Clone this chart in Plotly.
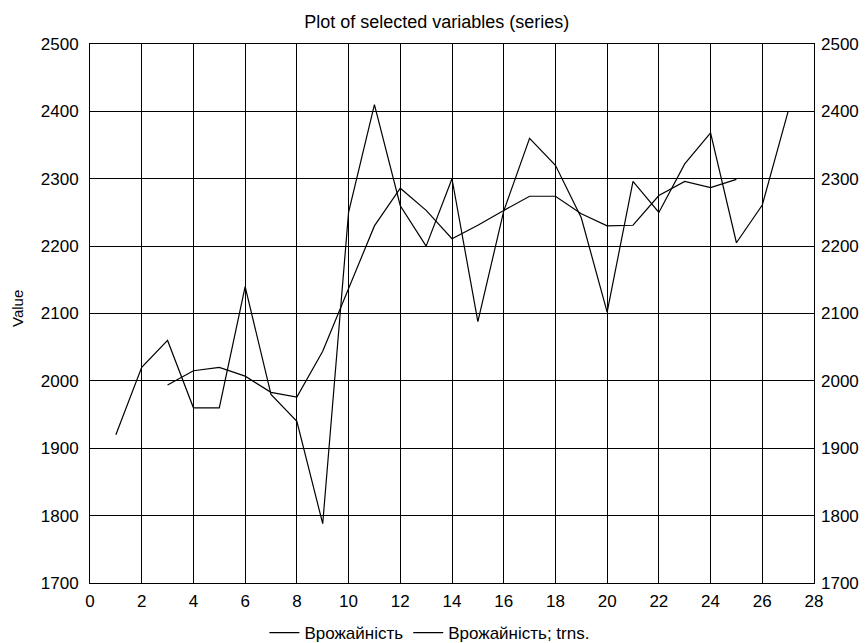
import plotly.graph_objects as go

# Yield series (Врожайність), periods 1..27
periods = list(range(1, 28))
yield_values = [1920, 2020, 2060, 1960, 1960, 2140, 1980, 1940, 1788, 2250,
                2410, 2260, 2200, 2300, 2088, 2252, 2360, 2320, 2242, 2102,
                2296, 2250, 2322, 2368, 2205, 2261, 2400]

# Smoothed (transformed) series, periods 3..25
trend_periods = list(range(3, 26))
trend_values = [1994, 2015, 2020, 2007, 1983, 1976, 2044, 2137, 2230, 2286,
                2253, 2211, 2231, 2253, 2274, 2274, 2248, 2230, 2231, 2275,
                2296, 2287, 2299]

x_ticks = list(range(0, 29, 2))
y_ticks = list(range(1700, 2501, 100))

FONT = "Liberation Sans, Arial, sans-serif"
TICK_FONT = dict(family=FONT, size=17, color="black")

fig = go.Figure()
fig.add_trace(go.Scatter(x=periods, y=yield_values, mode="lines",
                         name="Врожайність",
                         line=dict(color="black", width=1.2)))
fig.add_trace(go.Scatter(x=trend_periods, y=trend_values, mode="lines",
                         name="Врожайність; trns.",
                         line=dict(color="black", width=1.2)))
# empty trace carrying the mirrored right-hand value axis
fig.add_trace(go.Scatter(x=[None], y=[None], yaxis="y2", showlegend=False,
                         hoverinfo="skip"))

axis_common = dict(
    showline=True, linecolor="black", linewidth=1, mirror=True,
    gridcolor="black", gridwidth=1, zeroline=False,
    ticks="", tickfont=TICK_FONT,
)

fig.update_layout(
    width=865, height=643,
    margin=dict(l=90, r=51, t=44, b=60, autoexpand=False),
    paper_bgcolor="white", plot_bgcolor="white",
    font=dict(family=FONT, size=17, color="black"),
    title=dict(text="Plot of selected variables (series)",
               x=0.505, xref="container", xanchor="center",
               y=1 - 22 / 643, yref="container", yanchor="middle",
               font=dict(family=FONT, size=18, color="black")),
    xaxis=dict(range=[0, 28], tickvals=x_ticks, ticklabelstandoff=3,
               **axis_common),
    yaxis=dict(range=[1700, 2500], tickvals=y_ticks, ticklabelstandoff=7,
               **axis_common),
    yaxis2=dict(range=[1700, 2500], tickvals=y_ticks, overlaying="y",
                side="right", showgrid=False, showline=False, zeroline=False,
                ticks="", tickfont=TICK_FONT, ticklabelstandoff=6),
    showlegend=True,
    legend=dict(orientation="h", xref="container", x=0.497,
                xanchor="center", yref="container", y=1 - 633 / 643,
                yanchor="middle", bgcolor="rgba(0,0,0,0)",
                font=dict(family=FONT, size=17, color="black"),
                itemwidth=30, tracegroupgap=0),
    annotations=[dict(text="Value", textangle=-90, xref="paper",
                      yref="paper", x=-(90 - 17) / 724, y=(583 - 309) / 539,
                      xanchor="center", yanchor="middle", showarrow=False,
                      font=dict(family=FONT, size=15, color="black"))],
)

fig.write_html("out.html")
